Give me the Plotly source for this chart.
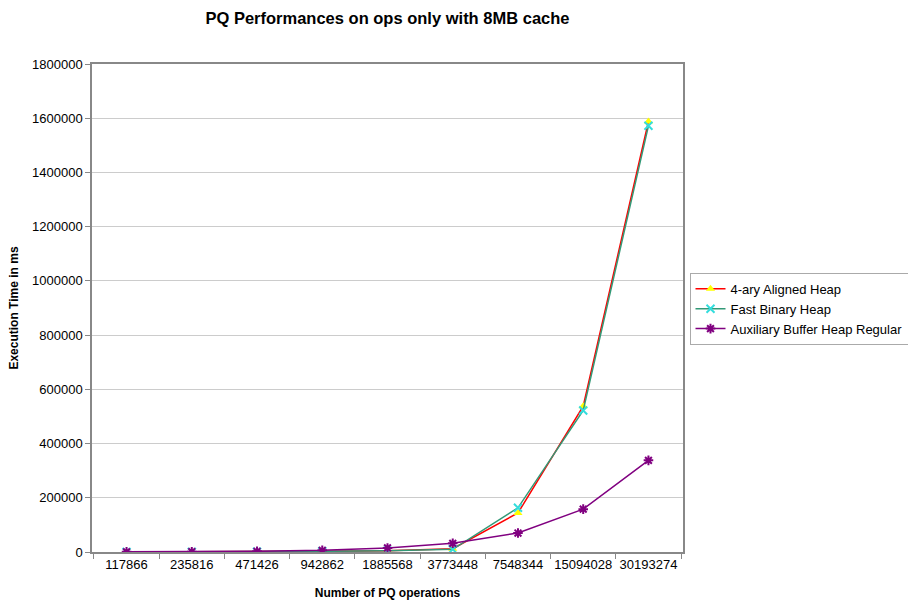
import plotly.graph_objects as go

categories = ["117866", "235816", "471426", "942862", "1885568", "3773448",
              "7548344", "15094028", "30193274"]
aligned_4ary = [200, 500, 1000, 2500, 5000, 12000, 144000, 538000, 1588000]
fast_binary = [200, 500, 1000, 2500, 4500, 10000, 163000, 522000, 1572000]
aux_buffer = [500, 1000, 2500, 6000, 15000, 32000, 70000, 158000, 338000]
y_ticks = list(range(0, 1800001, 200000))

font = "Liberation Sans, Arial, sans-serif"

fig = go.Figure()
fig.add_trace(go.Scatter(
    x=categories, y=aligned_4ary, name="4-ary Aligned Heap", mode="lines+markers",
    line=dict(color="#ff0000", width=1.5),
    marker=dict(symbol="triangle-up", color="#ffff00", size=8,
                line=dict(width=0))))
fig.add_trace(go.Scatter(
    x=categories, y=fast_binary, name="Fast Binary Heap", mode="lines+markers",
    line=dict(color="#339977", width=1.5),
    marker=dict(symbol="x-thin", color="#33dddd", size=8,
                line=dict(width=2, color="#33dddd"))))
fig.add_trace(go.Scatter(
    x=categories, y=aux_buffer, name="Auxiliary Buffer Heap Regular", mode="lines+markers",
    line=dict(color="#800080", width=1.5),
    marker=dict(symbol="asterisk", color="#800080", size=8,
                line=dict(width=2, color="#800080"))))

fig.update_layout(
    width=908, height=604,
    margin=dict(l=92, r=225, t=64, b=52, autoexpand=False),
    paper_bgcolor="white", plot_bgcolor="white",
    font=dict(family=font, size=13, color="black"),
    title=dict(text="<b>PQ Performances on ops only with 8MB cache</b>",
               x=0.5, xref="paper", xanchor="center", y=0.97, yanchor="middle",
               font=dict(size=16.5)),
    showlegend=True,
    legend=dict(x=1.011, y=0.572, xanchor="left", yanchor="top",
                bordercolor="#aaaaaa", borderwidth=1, bgcolor="white",
                font=dict(size=13), tracegroupgap=0, itemwidth=30),
    xaxis=dict(type="category", tickson="boundaries", ticks="outside", ticklen=5,
               tickangle=0, tickfont=dict(size=13),
               tickcolor="#888888", showline=True, linecolor="#888888", mirror=True,
               showgrid=False, linewidth=1.5,
               title=dict(text="<b>Number of PQ operations</b>", standoff=17,
                          font=dict(size=12))),
    yaxis=dict(range=[0, 1800000], tickvals=y_ticks, ticks="outside", ticklen=5,
               tickfont=dict(size=13),
               tickcolor="#888888", showline=True, linecolor="#888888", mirror=True,
               linewidth=1.5, showgrid=True, gridcolor="#cccccc", zeroline=False,
               tickformat="d",
               title=dict(text="<b>Execution Time in ms</b>", standoff=11,
                          font=dict(size=12))),
)

fig.write_html("out.html")
